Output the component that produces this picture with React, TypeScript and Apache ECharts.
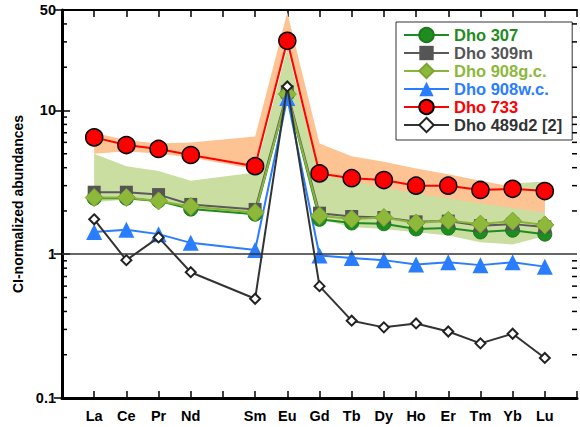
import { useEffect, useRef } from "react";
import * as echarts from "echarts";

// Rare earth elements (empty slot = Pm, not measured)
const elements = ["La", "Ce", "Pr", "Nd", "", "Sm", "Eu", "Gd", "Tb", "Dy", "Ho", "Er", "Tm", "Yb", "Lu"];

const dho307 = [2.45, 2.45, 2.35, 2.06, null, 1.9, 13.0, 1.75, 1.65, 1.63, 1.5, 1.52, 1.43, 1.47, 1.38];
const dho309m = [2.7, 2.7, 2.6, 2.22, null, 2.05, 13.5, 1.93, 1.83, 1.8, 1.68, 1.7, 1.58, 1.62, 1.55];
const dho908gc = [2.48, 2.48, 2.35, 2.15, null, 1.95, 13.0, 1.85, 1.76, 1.8, 1.65, 1.72, 1.62, 1.7, 1.6];
const dho908wc = [1.43, 1.48, 1.38, 1.2, null, 1.07, 12.2, 0.98, 0.94, 0.91, 0.85, 0.88, 0.84, 0.88, 0.82];
const dho733 = [6.5, 5.75, 5.4, 4.9, null, 4.1, 30.5, 3.65, 3.38, 3.28, 3.0, 3.0, 2.8, 2.85, 2.75];
const dho489d2 = [1.75, 0.91, 1.31, 0.75, null, 0.49, 14.7, 0.6, 0.345, 0.31, 0.33, 0.29, 0.24, 0.28, 0.19];

// shaded ranges
const orangeHigh = [7.0, 6.2, 5.9, 6.0, null, 6.6, 48, 5.9, 4.8, 4.4, 3.95, 3.6, 3.25, 2.95, 2.6];
const orangeLow = [5.0, 5.2, 5.0, 4.7, null, 3.9, 28, 3.6, 3.2, 2.9, 2.65, 2.45, 2.25, 2.1, 1.95];
const greenHigh = [5.0, 4.1, 3.8, 3.25, null, 3.7, 27, 3.6, 3.3, 3.1, 3.0, 2.9, 2.9, 3.1, 3.2];
const greenLow = [2.3, 2.4, 2.3, 2.1, null, 1.9, 12, 1.75, 1.55, 1.5, 1.42, 1.35, 1.21, 1.17, 1.34];

const minorTicks = [0.2, 0.3, 0.4, 0.5, 0.6, 0.7, 0.8, 0.9, 2, 3, 4, 5, 6, 7, 8, 9, 20, 30, 40];

const FONT = "'Liberation Sans', Arial, sans-serif";

function pts(arr: (number | null)[]) {
  return arr
    .map((v, i) => [i + 1, v] as [number, number | null])
    .filter((p) => p[1] != null);
}

function band(high: (number | null)[], low: (number | null)[], color: string, z: number) {
  return {
    type: "custom",
    silent: true,
    z,
    clip: true,
    data: [[1, 1]],
    renderItem: (_params: any, api: any) => {
      const up: number[][] = [];
      const dn: number[][] = [];
      high.forEach((v, i) => {
        if (v != null) up.push(api.coord([i + 1, v]));
      });
      low.forEach((v, i) => {
        if (v != null) dn.push(api.coord([i + 1, v]));
      });
      return {
        type: "polygon",
        shape: { points: up.concat(dn.reverse()) },
        style: { fill: color },
      };
    },
  };
}

export default function App() {
  const ref = useRef<HTMLDivElement>(null);
  useEffect(() => {
    document.body.style.margin = "0";
    const chart = echarts.init(ref.current!, null, { renderer: "svg" });

    const axisX = (pos: "bottom" | "top", show: boolean, lw: number) => ({
      type: "value",
      position: pos,
      min: 0,
      max: 16,
      interval: 1,
      axisLine: { show: true, lineStyle: { color: "#000", width: lw } },
      axisTick: { show: true, inside: true, length: 7, lineStyle: { color: "#000", width: 1.5 } },
      splitLine: { show: false },
      axisLabel: {
        show,
        margin: 10,
        color: "#000",
        fontFamily: FONT,
        fontWeight: "bold",
        fontSize: 14.5,
        formatter: (v: number) => (v >= 1 && v <= elements.length ? elements[v - 1] : ""),
      },
    });

    const axisY = (pos: "left" | "right", show: boolean, lw: number) => ({
      type: "log",
      logBase: 10,
      position: pos,
      min: 0.1,
      max: 50,
      name: show ? "CI-normalized abundances" : "",
      nameLocation: "middle",
      nameGap: 36,
      nameRotate: 90,
      nameTextStyle: { color: "#000", fontFamily: FONT, fontWeight: "bold", fontSize: 14 },
      axisLine: { show: true, lineStyle: { color: "#000", width: lw } },
      axisTick: { show: true, inside: true, length: 8, lineStyle: { color: "#000", width: 1.5 } },
      splitLine: { show: false },
      minorTick: { show: false },
      axisLabel: {
        show,
        margin: 6,
        color: "#000",
        fontFamily: FONT,
        fontWeight: "bold",
        fontSize: 14.5,
        formatter: (v: number) => String(Math.round(v * 1000) / 1000),
      },
    });

    const lineSeries = (
      name: string,
      data: (number | null)[],
      color: string,
      symbol: string,
      size: number,
      itemStyle: any,
      z: number
    ) => ({
      name,
      type: "line",
      data: pts(data),
      connectNulls: true,
      symbol,
      symbolSize: size,
      z,
      lineStyle: { color, width: 2 },
      itemStyle,
      emphasis: { disabled: true },
    });

    const series: any[] = [
      band(greenHigh, greenLow, "#c9dea0", 1),
      band(orangeHigh, orangeLow, "#fdc392", 1),
      {
        type: "custom",
        silent: true,
        z: 5,
        data: minorTicks.map((v) => [0, v]),
        renderItem: (_p: any, api: any) => {
          const v = api.value(1);
          const a = api.coord([0, v]);
          const b = api.coord([16, v]);
          return {
            type: "group",
            children: [
              { type: "line", shape: { x1: a[0], y1: a[1], x2: a[0] + 5, y2: a[1] }, style: { stroke: "#000", lineWidth: 1.5 } },
              { type: "line", shape: { x1: b[0] - 5, y1: b[1], x2: b[0], y2: b[1] }, style: { stroke: "#000", lineWidth: 1.5 } },
            ],
          };
        },
      },
      {
        type: "line",
        data: [],
        silent: true,
        z: 2,
        markLine: {
          silent: true,
          symbol: "none",
          label: { show: false },
          lineStyle: { color: "#333", width: 1.5, type: "solid" },
          data: [{ yAxis: 1 }],
        },
      },
      lineSeries("Dho 307", dho307, "#1f8c1f", "circle", 14, { color: "#1f8c1f", borderColor: "#1a7a1a", borderWidth: 1 }, 3),
      lineSeries("Dho 309m", dho309m, "#5a5a5a", "rect", 13, { color: "#555555" }, 3),
      lineSeries("Dho 908g.c.", dho908gc, "#8ab53a", "diamond", 18, { color: "#8db83a", borderColor: "#7aa530", borderWidth: 1 }, 3),
      lineSeries("Dho 908w.c.", dho908wc, "#2a7dff", "triangle", 16, { color: "#2a7dff" }, 3),
      lineSeries("Dho 733", dho733, "#ff0000", "circle", 17, { color: "#ff0000", borderColor: "#000", borderWidth: 1.5 }, 4),
      lineSeries("Dho 489d2 [2]", dho489d2, "#333333", "diamond", 10, { color: "#fff", borderColor: "#222", borderWidth: 2 }, 4),
    ];

    const legendColors: Record<string, string> = {
      "Dho 307": "#1f8c1f",
      "Dho 309m": "#555555",
      "Dho 908g.c.": "#8db83a",
      "Dho 908w.c.": "#2a7dff",
      "Dho 733": "#ff0000",
      "Dho 489d2 [2]": "#333333",
    };

    chart.setOption({
      animation: false,
      grid: { left: 62, right: 1, top: 10, bottom: 29, containLabel: false },
      xAxis: [axisX("bottom", true, 3), axisX("top", false, 2)],
      yAxis: [axisY("left", true, 3), axisY("right", false, 1.5)],
      legend: {
        left: 396,
        top: 22,
        orient: "vertical",
        backgroundColor: "#fff",
        borderColor: "#333",
        borderWidth: 1,
        borderRadius: 0,
        padding: [4, 10, 6, 7],
        itemGap: 0,
        itemWidth: 45,
        itemHeight: 18,
        selectedMode: false,
        textStyle: { fontFamily: FONT, fontWeight: "bold", fontSize: 16.5, lineHeight: 18 },
        data: Object.keys(legendColors).map((n) => ({
          name: n,
          textStyle: { color: legendColors[n] },
        })),
      },
      series,
    });
    return () => chart.dispose();
  }, []);
  return <div ref={ref} style={{ width: 580, height: 427, position: "absolute", left: 0, top: 0 }} />;
}
